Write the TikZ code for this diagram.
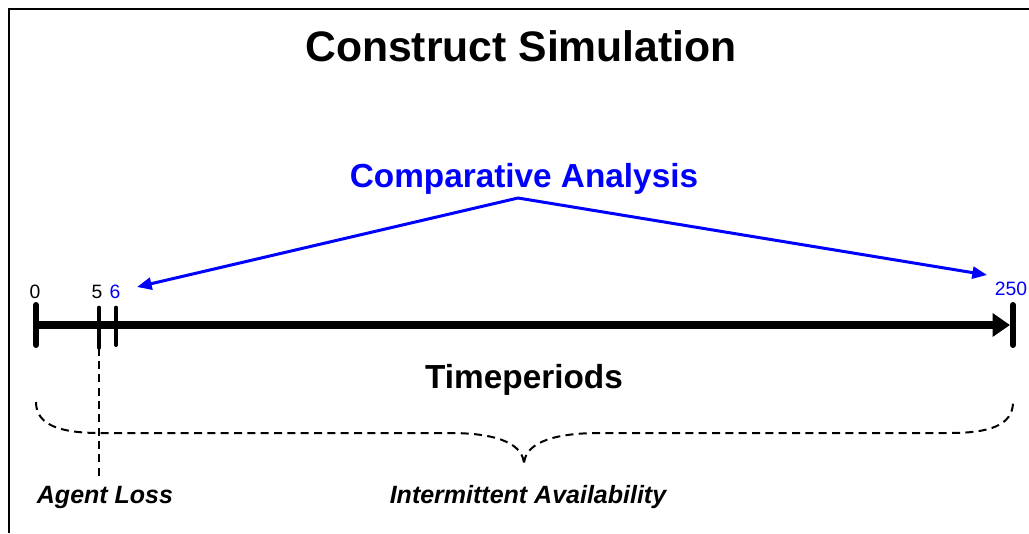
\documentclass[tikz,border=0pt]{standalone}
\usepackage{fontspec}
\setmainfont{Liberation Sans}
\usepackage{xcolor}
\usetikzlibrary{arrows.meta, positioning}

\begin{document}
\begin{tikzpicture}[x=0.75pt, y=-0.75pt,
        txt/.style={inner sep=0pt, anchor=base},
        num/.style={txt, font=\fontsize{14.5}{17}\selectfont},
        tick/.style={line width=4.5pt, line cap=round},
        small tick/.style={line width=3pt, line cap=round},
        dashline/.style={line width=1.5pt, dash pattern=on 6pt off 4pt},
        pointer/.style={blue, line width=2.25pt, -{Triangle[length=11pt,width=9pt]}}]
            \useasboundingbox (0,0) rectangle (1029,533);
            \draw[line width=1.5pt] (9,533) -- (9,9) -- (1029,9);
            \node (title) [txt] at (521,61) {\fontsize{32}{38}\selectfont\bfseries Construct Simulation};
            \node (comp)  [txt, blue] at (524,187) {\fontsize{25}{30}\selectfont\bfseries Comparative Analysis};
            \node (time)  [txt] at (524,388) {\fontsize{25}{30}\selectfont\bfseries Timeperiods};
            \coordinate (t0)   at (36,325);
            \coordinate (t5)   at (99,325);
            \coordinate (t6)   at (116,325);
            \coordinate (t250) at (1013,325);
            \coordinate (tip)  at (1010,325);
            \node (n0)   [num] at (35,298) {0};
            \node (n5)   [num] at (97,298) {5};
            \node (n6)   [num, blue] at (115,298) {6};
            \node (n250) [num, blue] at (1011,295) {250};
            \draw[line width=6pt, -{Triangle[length=13pt,width=17pt]}] (t0) -- (tip);
            \draw[tick] ([yshift=15pt]t0) -- ([yshift=-15pt]t0);
            \draw[tick] ([yshift=15pt]t250) -- ([yshift=-15pt]t250);
            \draw[small tick] ([yshift=13pt]t5) -- ([yshift=-17pt]t5);
            \draw[small tick] ([yshift=13pt]t6) -- ([yshift=-15pt]t6);
            \coordinate (apex)  at (518,198);
            \coordinate (left)  at (137,287);
            \coordinate (right) at (987,275);
            \draw[pointer] (apex) -- (left);
            \draw[pointer] (apex) -- (right);
            \coordinate (loss) at (99,477);
            \draw[dashline] ([yshift=-17pt]t5) -- (loss);
            \coordinate (cusp) at (524,465);
            \draw[dashline] (36,402) .. controls (36,425) and (60,433) .. (100,433) -- (450,433)
                .. controls (500,433) and (524,445) .. (cusp)
                .. controls (524,445) and (548,433) .. (600,433) -- (950,433)
                .. controls (990,433) and (1013,425) .. (1013,402);
            \node (agent) [txt] at (105,503) {\fontsize{18.75}{22}\selectfont\bfseries\itshape Agent Loss};
            \node (avail) [txt] at (528,503) {\fontsize{18.75}{22}\selectfont\bfseries\itshape Intermittent Availability};
        \end{tikzpicture}
\end{document}
